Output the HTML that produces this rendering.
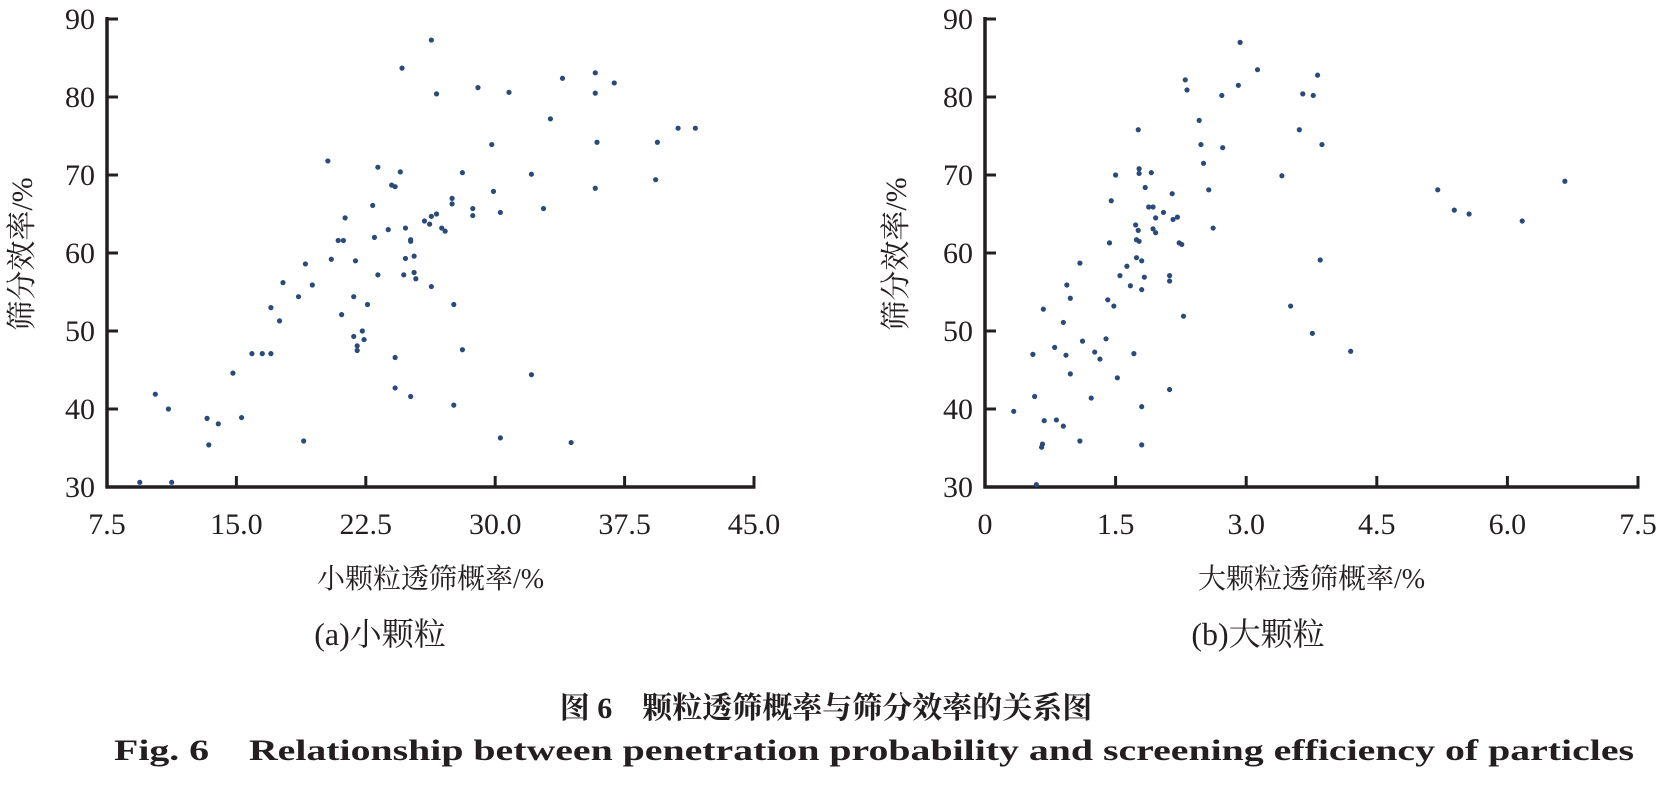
<!DOCTYPE html>
<html><head><meta charset="utf-8"><style>
html,body{margin:0;padding:0;background:#fff;}
svg{display:block;}
text{font-family:"Liberation Serif","Noto Serif CJK SC",serif;fill:#231f20;}
</style></head><body>
<svg id="fig" width="1657" height="792" viewBox="0 0 1657 792">
<g id="chartA"></g>
<g id="chartB"></g>
<text x="380" y="645" font-size="32" text-anchor="middle">(a)小颗粒</text>
<text x="1258" y="645" font-size="32" text-anchor="middle">(b)大颗粒</text>
<text x="826" y="718" font-size="30" font-weight="bold" text-anchor="middle" font-family="Noto Sans CJK SC, sans-serif">图 6　颗粒透筛概率与筛分效率的关系图</text>
<text x="114" y="760" font-size="30" font-weight="bold" textLength="1520" lengthAdjust="spacingAndGlyphs">Fig. 6　Relationship between penetration probability and screening efficiency of particles</text>
</svg>
<script>
const aX = [9.4,11.25,10.3,11.06,13.3,13.95,15.3,13.4,14.8,15.9,16.5,17.0,17.0,17.5,17.7,18.6,19.0,19.4,18.9,20.3,20.5,20.9,21.2,21.3,21.1,21.8,21.9,21.8,22.0,22.0,22.3,22.4,22.6,22.9,23.0,23.2,23.2,23.8,24.0,24.2,24.5,24.2,24.2,24.6,24.8,24.7,24.8,25.1,25.1,25.3,25.3,25.1,25.4,26.3,25.9,26.2,26.3,26.6,26.6,26.3,27.1,26.9,27.5,27.5,27.6,27.6,28.1,28.1,28.7,28.7,29.0,29.8,29.9,30.3,30.3,30.8,32.1,32.1,32.8,33.2,33.9,34.4,35.8,35.8,35.9,35.8,36.9,39.3,39.4,40.6,41.6];
const aY = [30.6,30.6,41.9,40.0,38.8,38.1,38.9,35.4,44.6,47.1,47.1,47.1,53.0,51.3,56.2,54.4,58.6,55.9,35.9,71.8,59.2,61.6,61.6,64.5,52.1,54.4,59.0,49.3,47.5,48.1,50.0,48.9,53.4,66.1,62.0,57.2,71.0,63.0,68.7,68.5,70.4,46.6,42.7,83.7,63.2,57.2,59.3,61.5,61.7,59.6,57.5,41.6,56.7,87.3,64.1,63.7,64.7,80.4,65.0,55.7,62.8,63.2,67.0,66.3,53.4,40.5,70.3,47.6,65.7,64.8,81.2,73.9,67.9,65.2,36.3,80.6,70.1,44.4,65.7,77.2,82.4,35.7,83.1,80.5,74.2,68.3,81.8,69.4,74.2,76.0,76.0];
const bX = [0.33,0.55,0.57,0.59,0.65,0.66,0.67,0.68,0.80,0.82,0.90,0.90,0.93,0.94,0.98,0.98,1.09,1.09,1.12,1.22,1.26,1.32,1.39,1.41,1.43,1.45,1.48,1.50,1.52,1.55,1.63,1.67,1.71,1.76,1.73,1.76,1.74,1.77,1.74,1.77,1.77,1.80,1.80,1.80,1.80,1.83,1.84,1.88,1.93,1.91,1.93,1.96,1.96,2.05,2.12,2.12,2.15,2.12,2.16,2.21,2.23,2.26,2.28,2.30,2.32,2.46,2.48,2.51,2.57,2.62,2.72,2.73,2.91,2.93,3.13,3.41,3.51,3.61,3.65,3.77,3.76,3.82,3.87,3.85,4.20,5.20,5.39,5.56,6.17,6.66];
const bY = [39.7,47.0,41.6,30.3,35.1,35.5,52.8,38.5,47.9,38.6,37.8,51.1,46.9,55.9,54.2,44.5,58.7,35.9,48.7,41.4,47.3,46.4,49.0,54.0,61.3,66.7,53.2,70.0,44.0,57.1,58.3,55.8,47.1,75.8,63.6,62.9,61.7,61.5,59.4,70.8,70.2,59.0,55.3,40.3,35.4,56.9,68.4,65.9,65.9,70.3,63.1,64.5,62.6,65.2,57.1,56.4,67.6,42.5,64.3,64.6,61.3,61.1,51.9,82.2,80.9,77.0,73.9,71.5,68.1,63.2,80.2,73.5,81.5,87.0,83.5,69.9,53.2,75.8,80.4,80.2,49.7,82.8,73.9,59.1,47.4,68.1,65.5,65.0,64.1,69.2];
const aXTicks = ["7.5","15.0","22.5","30.0","37.5","45.0"];
const bXTicks = ["0","1.5","3.0","4.5","6.0","7.5"];
const yTicks = ["30","40","50","60","70","80","90"];

const NS = "http://www.w3.org/2000/svg";
function mk(tag, attrs, parent){const e=document.createElementNS(NS,tag);for(const k in attrs)e.setAttribute(k,attrs[k]);parent.appendChild(e);return e;}

function drawChart(g, cfg){
  const sx = v => cfg.x0 + (v - cfg.xmin)/(cfg.xmax - cfg.xmin)*(cfg.x1 - cfg.x0);
  const sy = v => cfg.y0 - (v - 30)/60*(cfg.y0 - cfg.y1);
  const yAxis = mk('line',{x1:cfg.x0,y1:cfg.y1-2,x2:cfg.x0,y2:cfg.y0+1.5,stroke:'#231f20','stroke-width':3.5},g);
  
  
  const xAxis = mk('line',{x1:cfg.x0-1.5,y1:cfg.y0,x2:cfg.x1+1.5,y2:cfg.y0,stroke:'#231f20','stroke-width':3.5},g);
  
  
  yTicks.forEach(t=>{
    const y=sy(parseFloat(t));
    const tk=mk('line',{x1:cfg.x0,y1:y,x2:cfg.x0+11,y2:y,stroke:'#231f20','stroke-width':3},g);
    
    
    const lb=mk('text',{x:cfg.x0-12,y:y+10,'font-size':30,'text-anchor':'end'},g);
    lb.textContent=t;
    
    
  });
  cfg.ticks.forEach(t=>{
    const x=sx(parseFloat(t));
    const tk=mk('line',{x1:x,y1:cfg.y0,x2:x,y2:cfg.y0-11,stroke:'#231f20','stroke-width':3},g);
    
    
    const lb=mk('text',{x:x,y:cfg.y0+47,'font-size':30,'text-anchor':'middle'},g);
    lb.textContent=t;
    
    
  });
  const xt=mk('text',{x:(cfg.x0+cfg.x1)/2,y:cfg.y0+101,'font-size':28,'text-anchor':'middle'},g);
  xt.textContent=cfg.xTitle;
  
  
  const yt=mk('text',{x:0,y:0,'font-size':30,'text-anchor':'middle',transform:`translate(${cfg.ytx},254) rotate(-90)`},g);
  yt.textContent='筛分效率/%';
  
  
  cfg.xs.forEach((v,i)=>{
    const c=mk('circle',{cx:sx(v),cy:sy(cfg.ys[i]),r:2.6,fill:'#2a4a7a'},g);
    
    
  });
}
drawChart(document.getElementById('chartA'),{x0:107,x1:754,y0:487,y1:19,xmin:7.5,xmax:45,ticks:aXTicks,xs:aX,ys:aY,xTitle:'小颗粒透筛概率/%',ytx:32});
drawChart(document.getElementById('chartB'),{x0:985,x1:1638,y0:487,y1:19,xmin:0,xmax:7.5,ticks:bXTicks,xs:bX,ys:bY,xTitle:'大颗粒透筛概率/%',ytx:906});
</script>
</body></html>
